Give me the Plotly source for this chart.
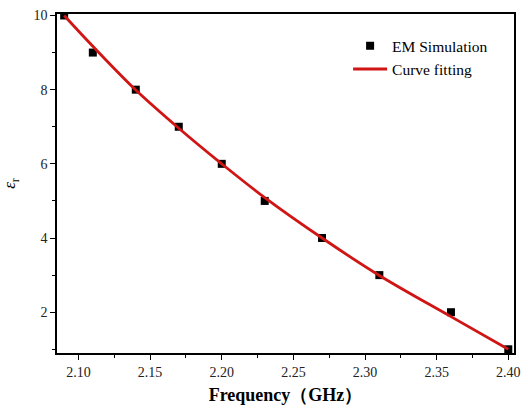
import plotly.graph_objects as go

freq_sim = [2.09, 2.11, 2.14, 2.17, 2.20, 2.23, 2.27, 2.31, 2.36, 2.40]
eps_sim = [10, 9, 8, 7, 6, 5, 4, 3, 2, 1]

freq_fit = [2.09, 2.11, 2.14, 2.17, 2.20, 2.23, 2.27, 2.31, 2.36, 2.40]
eps_fit = [10.0, 9.17, 7.99, 6.96, 6.0, 5.09, 4.0, 2.99, 1.88, 1.0]

x_ticks = [2.10, 2.15, 2.20, 2.25, 2.30, 2.35, 2.40]
y_ticks = [2, 4, 6, 8, 10]

font = "Liberation Serif"

fig = go.Figure()
fig.add_trace(go.Scatter(x=freq_sim, y=eps_sim, mode="markers", name="EM Simulation",
                         marker=dict(symbol="square", size=8, color="black")))
fig.add_trace(go.Scatter(x=freq_fit, y=eps_fit, mode="lines", name="Curve fitting",
                         line=dict(color="#d01515", width=2.8, shape="spline", smoothing=1.0)))

axis_common = dict(showline=True, linecolor="black", linewidth=1.5, mirror=True,
                   ticks="outside", ticklen=5, tickwidth=1.2, tickcolor="black",
                   showgrid=False, zeroline=False,
                   tickfont=dict(family=font, size=14, color="#222"))

fig.update_layout(
    width=528, height=415,
    margin=dict(l=56, r=8, t=11, b=62),
    paper_bgcolor="white", plot_bgcolor="white",
    font=dict(family=font, color="black"),
    showlegend=True,
    legend=dict(x=0.637, y=0.955, xanchor="left", yanchor="top",
                bgcolor="rgba(0,0,0,0)", font=dict(family=font, size=15.5),
                tracegroupgap=0, itemwidth=34),
    xaxis=dict(range=[2.085, 2.404], tickvals=x_ticks, tickformat=".2f",
               minor=dict(ticks="outside", ticklen=3, tickwidth=1.2, tickcolor="black", dtick=0.025,
                          tick0=2.075),
               title=dict(text="<b>Frequency（GHz）</b>", font=dict(family=font, size=18), standoff=10),
               **axis_common),
    yaxis=dict(range=[0.9, 10.04], tickvals=y_ticks,
               minor=dict(ticks="outside", ticklen=3, tickwidth=1.2, tickcolor="black", dtick=1,
                          tick0=1),
               title=dict(text="<i>ε</i><sub>r</sub>", font=dict(family=font, size=17), standoff=14),
               **axis_common),
)

fig.write_html("out.html")
